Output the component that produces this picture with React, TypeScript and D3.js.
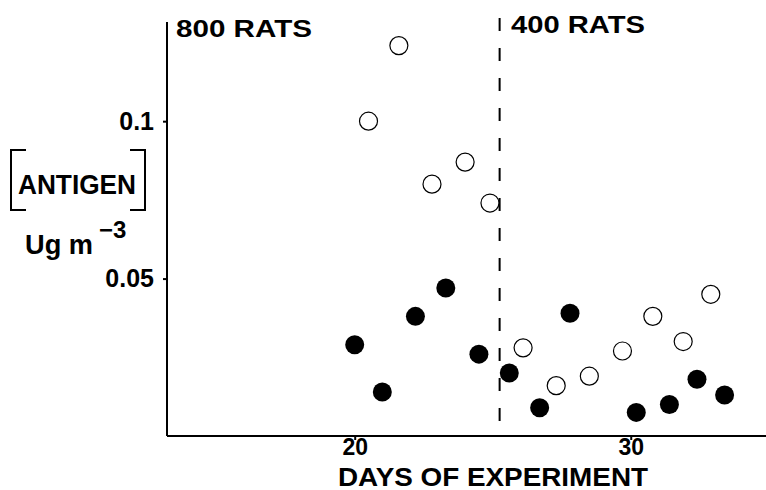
import React, { useEffect, useRef } from "react";
import * as d3 from "d3";

// days of experiment and antigen concentration (ug m^-3)
const openDays = [20.5, 21.6, 22.8, 24.0, 24.9, 26.1, 27.3, 28.5, 29.7, 30.8, 31.9, 32.9];
const openVals = [0.1, 0.124, 0.08, 0.087, 0.074, 0.028, 0.016, 0.019, 0.027, 0.038, 0.03, 0.045];
const filledDays = [20.0, 21.0, 22.2, 23.3, 24.5, 25.6, 26.7, 27.8, 30.2, 31.4, 32.4, 33.4];
const filledVals = [0.029, 0.014, 0.038, 0.047, 0.026, 0.02, 0.009, 0.039, 0.0075, 0.01, 0.018, 0.013];
const xTicks = [20, 30];
const yTicks = [0.05, 0.1];
const yTickLabels = ["0.05", "0.1"];
const switchDay = 25.25;
const phaseLabels = ["800 RATS", "400 RATS"];

const W = 766;
const H = 490;
const FONT = "'Liberation Sans', Arial, sans-serif";

const App = () => {
  const svgRef = useRef<SVGSVGElement>(null);

  useEffect(() => {
    const svg = d3.select(svgRef.current);
    svg.selectAll("*").remove();

    const x = d3.scaleLinear().domain([13.2, 34.9]).range([167, 766]);
    const y = d3.scaleLinear().domain([0, 0.1315]).range([436, 22]);

    // y axis
    const yAxis = svg
      .append("g")
      .attr("transform", `translate(${x(13.2)},0)`)
      .call(
        d3
          .axisLeft(y)
          .tickValues(yTicks)
          .tickSize(4)
          .tickPadding(9)
          .tickFormat((d, i) => yTickLabels[i])
      );
    yAxis.select(".domain").attr("d", `M0,${y(0)}V${y.range()[1]}`);

    // x axis
    const xAxis = svg
      .append("g")
      .attr("transform", `translate(0,${y(0)})`)
      .call(d3.axisBottom(x).tickValues(xTicks).tickSize(4).tickPadding(-1));
    xAxis.select(".domain").attr("d", `M${x.range()[0]},0H${x.range()[1]}`);

    svg.selectAll(".domain").attr("stroke", "#000").attr("stroke-width", 2);
    svg.selectAll(".tick line").attr("stroke", "#000").attr("stroke-width", 2);
    svg
      .selectAll(".tick text")
      .attr("fill", "#000")
      .style("font-family", FONT)
      .style("font-weight", "bold");
    yAxis.selectAll(".tick text").style("font-size", "25px");
    xAxis.selectAll(".tick text").style("font-size", "23px");

    // dashed divider
    svg
      .append("line")
      .attr("x1", x(switchDay))
      .attr("x2", x(switchDay))
      .attr("y1", 18)
      .attr("y2", y(0))
      .attr("stroke", "#000")
      .attr("stroke-width", 2)
      .attr("stroke-dasharray", "13 17");

    // points
    svg
      .append("g")
      .selectAll("circle")
      .data(openDays)
      .join("circle")
      .attr("cx", (d) => x(d))
      .attr("cy", (d, i) => y(openVals[i]))
      .attr("r", 9)
      .attr("fill", "#fff")
      .attr("stroke", "#000")
      .attr("stroke-width", 1.2);

    svg
      .append("g")
      .selectAll("circle")
      .data(filledDays)
      .join("circle")
      .attr("cx", (d) => x(d))
      .attr("cy", (d, i) => y(filledVals[i]))
      .attr("r", 9.5)
      .attr("fill", "#000");

    const label = (t, px, py, size, len?) => {
      const el = svg
        .append("text")
        .attr("x", px)
        .attr("y", py)
        .style("font-family", FONT)
        .style("font-weight", "bold")
        .style("font-size", size + "px")
        .text(t);
      if (len) el.attr("textLength", len).attr("lengthAdjust", "spacingAndGlyphs");
      return el;
    };

    label(phaseLabels[0], 176, 37, 24, 136);
    label(phaseLabels[1], 511, 33, 24, 134);
    label("DAYS OF EXPERIMENT", 338, 486, 25, 310);

    // y label with brackets
    label("ANTIGEN", 18, 194, 27, 118);
    const br = d3.path();
    br.moveTo(26, 150);
    br.lineTo(11, 150);
    br.lineTo(11, 210);
    br.lineTo(26, 210);
    br.moveTo(130, 150);
    br.lineTo(145, 150);
    br.lineTo(145, 210);
    br.lineTo(130, 210);
    svg
      .append("path")
      .attr("d", br.toString())
      .attr("fill", "none")
      .attr("stroke", "#000")
      .attr("stroke-width", 2);
    label("Ug m", 25, 254, 27, 68);
    label("\u22123", 99, 238, 24);
  }, []);

  return (
    <svg
      ref={svgRef}
      width={W}
      height={H}
      style={{ position: "absolute", left: 0, top: 0, background: "#fff" }}
    />
  );
};

export default App;
